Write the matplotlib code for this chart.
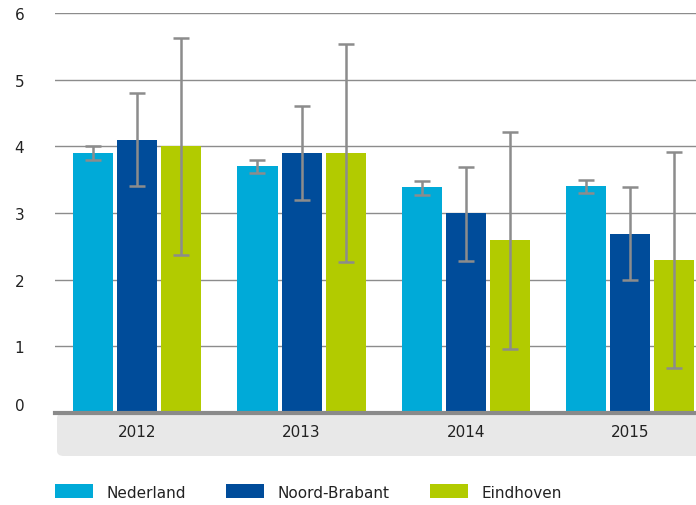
import matplotlib.pyplot as plt
import numpy as np
from matplotlib.patches import FancyBboxPatch, Patch

years = ["2012", "2013", "2014", "2015"]
series = ["Nederland", "Noord-Brabant", "Eindhoven"]

nederland = [3.9, 3.7, 3.39, 3.41]
nederland_low = [3.79, 3.6, 3.27, 3.3]
nederland_high = [4.0, 3.8, 3.48, 3.5]

brabant = [4.1, 3.9, 3.0, 2.69]
brabant_low = [3.4, 3.19, 2.28, 1.99]
brabant_high = [4.8, 4.6, 3.69, 3.39]

eindhoven = [4.0, 3.9, 2.59, 2.29]
eindhoven_low = [2.37, 2.26, 0.96, 0.67]
eindhoven_high = [5.63, 5.54, 4.22, 3.92]

colors = ["#00aad8", "#004c9a", "#b2cb00"]
err_color = "#8c8c8c"
text_color = "#222222"

plt.rcParams["font.family"] = ["DejaVu Sans"]

fig = plt.figure(figsize=(6.96, 5.06), dpi=100)
ax = fig.add_axes([55 / 696, 1 - 414 / 506, 1 - 55 / 696, 400 / 506])
ax.patch.set_alpha(0)
ax.set_zorder(2)

x = np.arange(len(years))
width = 0.2435
offset = 0.268

data = [
    (nederland, nederland_low, nederland_high),
    (brabant, brabant_low, brabant_high),
    (eindhoven, eindhoven_low, eindhoven_high),
]

for i, (vals, low, high) in enumerate(data):
    pos = x + (i - 1) * offset
    vals = np.array(vals)
    yerr = [vals - np.array(low), np.array(high) - vals]
    ax.bar(pos, vals, width, color=colors[i], zorder=2)
    ax.errorbar(pos, vals, yerr=yerr, fmt="none", ecolor=err_color,
                elinewidth=1.8, capsize=5.5, capthick=1.8, zorder=3)

ax.set_ylim(0, 6)
ax.set_xlim(-0.5, 3.4)
ax.set_yticks(range(7))
ax.yaxis.grid(True, color="#8c8c8c", linewidth=1.0, zorder=0)
ax.set_axisbelow(True)

for side in ["top", "right", "left"]:
    ax.spines[side].set_visible(False)
ax.spines["bottom"].set_color("#8a8a8a")
ax.spines["bottom"].set_linewidth(3)
ax.spines["bottom"].set_zorder(4)

ax.set_xticks(x)
ax.set_xticklabels(years)
ax.tick_params(axis="x", length=0, pad=8, labelsize=11, labelcolor=text_color)
ax.tick_params(axis="y", length=0, pad=29, labelsize=11, labelcolor=text_color)
for lbl in ax.get_yticklabels():
    lbl.set_horizontalalignment("left")
ax.get_yticklabels()[0].set_verticalalignment("bottom")

# grey band behind the year labels
band = FancyBboxPatch((57 / 696, 1 - 457 / 506), 660 / 696, 43 / 506,
                      boxstyle="round,pad=0,rounding_size=0.01",
                      transform=fig.transFigure, facecolor="#e8e8e8",
                      edgecolor="none", zorder=-1)
fig.patches.append(band)

handles = [Patch(facecolor=c, edgecolor="none") for c in colors]
fig.legend(handles, series, loc="center left", bbox_to_anchor=(41 / 696, 1 - 493 / 506),
           ncol=3, frameon=False, fontsize=11, handlelength=2.5, handleheight=1.0,
           handletextpad=0.9, columnspacing=2.6, labelcolor=text_color)

fig.savefig("out.png", dpi=100)
